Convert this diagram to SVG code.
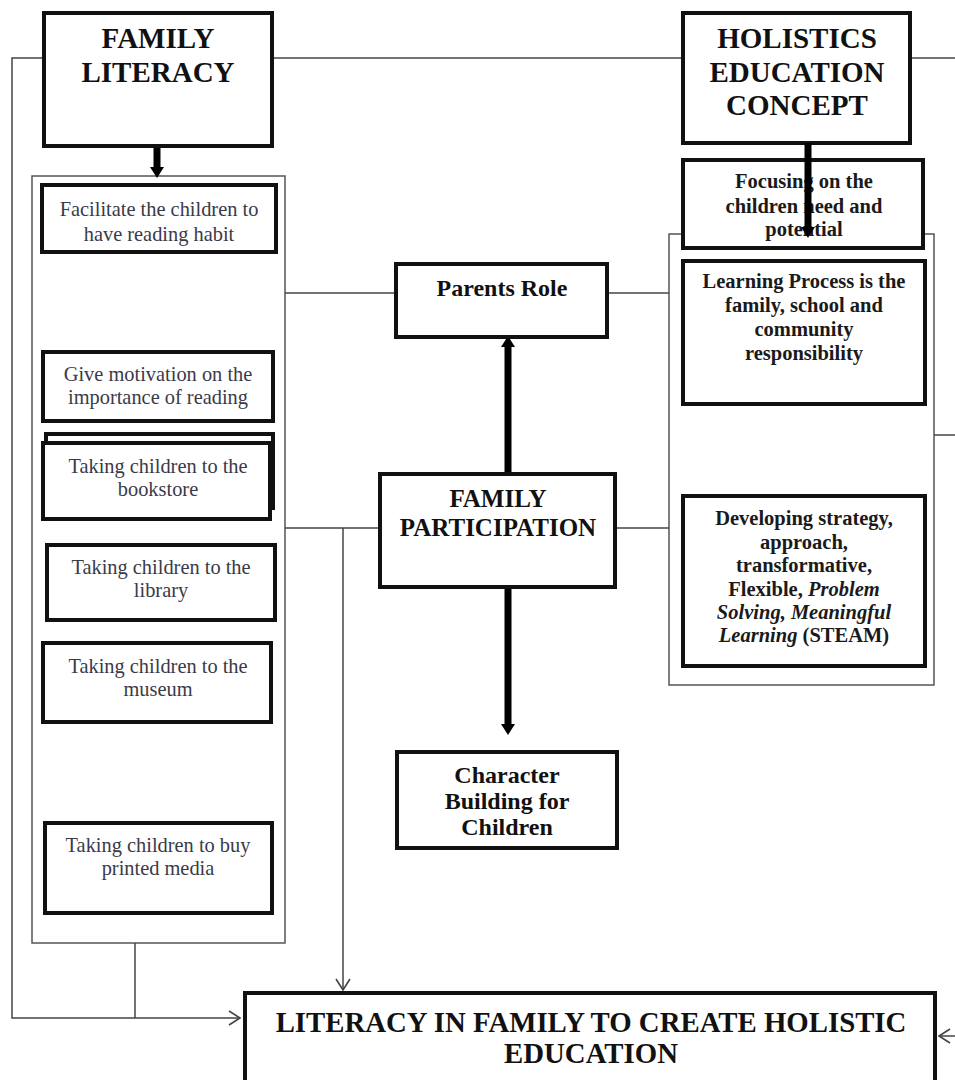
<svg xmlns="http://www.w3.org/2000/svg" width="955" height="1080" viewBox="0 0 955 1080">
<style>
.bg{fill:#fff}
.box{fill:#fff;stroke:#111;stroke-width:4}
.cont{fill:none;stroke:#555;stroke-width:1.5}
.ln{fill:none;stroke:#444;stroke-width:1.5}
.thick{fill:none;stroke:#000;stroke-width:7}
.t{font-family:"Liberation Serif","Times New Roman",serif;text-anchor:middle}
.title{font-size:29px;font-weight:bold;fill:#111}
.b20{font-size:20.5px;font-weight:bold;fill:#1a1a1a}
.r20{font-size:20.4px;fill:#3a3a48}
.big{font-size:28.8px;font-weight:bold;fill:#111}
.mid{font-size:24px;font-weight:bold;fill:#111}
</style>
<defs>
<marker id="thickHead" markerUnits="userSpaceOnUse" markerWidth="14" markerHeight="16" refX="0" refY="8" orient="auto">
<path d="M0,1 L11,8 L0,15 z" fill="#000"/>
</marker>
<marker id="open" markerUnits="userSpaceOnUse" markerWidth="14" markerHeight="16" refX="12" refY="8" orient="auto">
<path d="M1,1 L12,8 L1,15" fill="none" stroke="#444" stroke-width="1.6"/>
</marker>
</defs>
<rect class="bg" x="0" y="0" width="955" height="1080"/>

<g id="containers">
<rect class="cont" x="32" y="176" width="253" height="767"/>
<rect class="cont" x="669" y="234" width="265" height="451"/>
</g>

<g id="connectors">
<path class="ln" d="M44,58 H12 V1018 H240" marker-end="url(#open)"/>
<path class="ln" d="M272,58 H683"/>
<path class="ln" d="M910,58 H960"/>
<path class="ln" d="M135,943 V1018"/>
<path class="ln" d="M285,293 H396"/>
<path class="ln" d="M607,293 H669"/>
<path class="ln" d="M285,528 H380"/>
<path class="ln" d="M615,528 H669"/>
<path class="ln" d="M343,528 V990" marker-end="url(#open)"/>
<path class="ln" d="M934,435 H960"/>
<path class="ln" d="M960,1036 H939" marker-end="url(#open)"/>
<path class="thick" d="M157,147 V167" marker-end="url(#thickHead)"/>
<path class="thick" d="M508,474 V347" marker-end="url(#thickHead)"/>
<path class="thick" d="M508,587 V724" marker-end="url(#thickHead)"/>
</g>

<g id="family-literacy">
<rect class="box" x="44" y="13" width="228" height="133"/>
<text class="t title" x="158" y="48">FAMILY</text>
<text class="t title" x="158" y="82">LITERACY</text>
</g>

<g id="holistics">
<rect class="box" x="683" y="13" width="227" height="130"/>
<text class="t title" x="797" y="48">HOLISTICS</text>
<text class="t title" x="797" y="82">EDUCATION</text>
<text class="t title" x="797" y="115">CONCEPT</text>
</g>

<g id="focusing">
<rect class="box" x="683" y="160" width="240" height="88"/>
<text class="t b20" x="804" y="188">Focusing on the</text>
<text class="t b20" x="804" y="213">children need and</text>
<text class="t b20" x="804" y="236">potential</text>
</g>

<g id="holistics-arrow">
<path class="thick" d="M808,143 V227" marker-end="url(#thickHead)"/>
</g>

<g id="learning-process">
<rect class="box" x="683" y="261" width="242" height="143"/>
<text class="t b20" x="804" y="288">Learning Process is the</text>
<text class="t b20" x="804" y="312">family, school and</text>
<text class="t b20" x="804" y="336">community</text>
<text class="t b20" x="804" y="360">responsibility</text>
</g>

<g id="developing">
<rect class="box" x="683" y="496" width="242" height="170"/>
<text class="t b20" x="804" y="525">Developing strategy,</text>
<text class="t b20" x="804" y="549">approach,</text>
<text class="t b20" x="804" y="572">transformative,</text>
<text class="t b20" x="804" y="596">Flexible, <tspan font-style="italic">Problem</tspan></text>
<text class="t b20" x="804" y="619" font-style="italic">Solving, Meaningful</text>
<text class="t b20" x="804" y="642"><tspan font-style="italic">Learning</tspan> (STEAM)</text>
</g>

<g id="parents-role">
<rect class="box" x="396" y="264" width="211" height="73"/>
<text class="t mid" x="502" y="296">Parents Role</text>
</g>

<g id="family-participation">
<rect class="box" x="380" y="474" width="235" height="113"/>
<text class="t" x="498" y="507" font-size="25" font-weight="bold" fill="#111">FAMILY</text>
<text class="t" x="498" y="536" font-size="25" font-weight="bold" fill="#111">PARTICIPATION</text>
</g>

<g id="character-building">
<rect class="box" x="397" y="752" width="220" height="96"/>
<text class="t mid" x="507" y="783">Character</text>
<text class="t mid" x="507" y="809">Building for</text>
<text class="t mid" x="507" y="835">Children</text>
</g>

<g id="facilitate">
<rect class="box" x="42" y="185" width="234" height="67"/>
<path d="M44,253 H276" stroke="#111" stroke-width="2"/>
<text class="t r20" x="159" y="216">Facilitate the children to</text>
<text class="t r20" x="159" y="241">have reading habit</text>
</g>

<g id="motivation">
<rect class="box" x="43" y="352" width="230" height="69"/>
<text class="t r20" x="158" y="381">Give motivation on the</text>
<text class="t r20" x="158" y="404">importance of reading</text>
</g>

<g id="bookstore">
<rect class="box" x="46" y="434" width="227" height="74"/>
<rect class="box" x="43" y="443" width="227" height="76"/>
<text class="t r20" x="158" y="473">Taking children to the</text>
<text class="t r20" x="158" y="496">bookstore</text>
</g>

<g id="library">
<rect class="box" x="47" y="545" width="228" height="75"/>
<text class="t r20" x="161" y="574">Taking children to the</text>
<text class="t r20" x="161" y="597">library</text>
</g>

<g id="museum">
<rect class="box" x="43" y="643" width="228" height="79"/>
<text class="t r20" x="158" y="673">Taking children to the</text>
<text class="t r20" x="158" y="696">museum</text>
</g>

<g id="printed-media">
<rect class="box" x="45" y="823" width="227" height="90"/>
<text class="t r20" x="158" y="852">Taking children to buy</text>
<text class="t r20" x="158" y="875">printed media</text>
</g>

<g id="literacy-holistic">
<rect class="box" x="245" y="993" width="690" height="100"/>
<text class="t big" x="591" y="1032">LITERACY IN FAMILY TO CREATE HOLISTIC</text>
<text class="t big" x="591" y="1063">EDUCATION</text>
</g>
</svg>
